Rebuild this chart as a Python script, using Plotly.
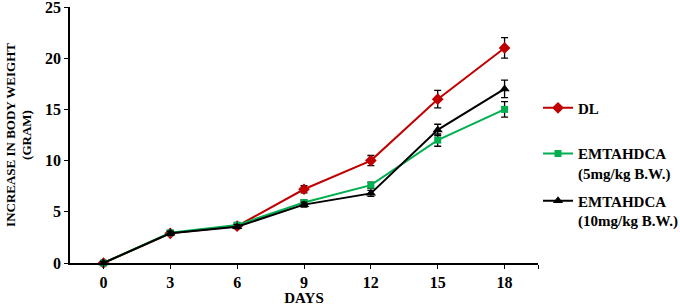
import plotly.graph_objects as go

days = [0, 3, 6, 9, 12, 15, 18]
dl = [0, 2.9, 3.6, 7.2, 10.0, 16.0, 21.0]
dl_err = [0.15, 0.2, 0.2, 0.35, 0.5, 0.85, 1.0]
emt5 = [0, 2.95, 3.7, 5.9, 7.6, 12.0, 15.0]
emt5_err = [0.15, 0.2, 0.2, 0.25, 0.3, 0.6, 0.75]
emt10 = [0, 2.9, 3.55, 5.7, 6.8, 13.0, 17.0]
emt10_err = [0.15, 0.2, 0.2, 0.25, 0.3, 0.55, 0.85]
x_ticks = [0, 3, 6, 9, 12, 15, 18]
y_ticks = [0, 5, 10, 15, 20, 25]

FONT = "Liberation Serif"

series = [
    ("<b>DL</b>", dl, dl_err, "#C00000", "diamond", 9, "legend", 0.605),
    ("<b>EMTAHDCA<br>(5mg/kg B.W.)</b>", emt5, emt5_err, "#00B050", "square", 7, "legend2", 0.39),
    ("<b>EMTAHDCA<br>(10mg/kg B.W.)</b>", emt10, emt10_err, "#000000", "triangle-up", 9, "legend3", 0.205),
]

fig = go.Figure()
legends = {}
for i, (name, ys, errs, col, sym, sz, leg, ly) in enumerate(series):
    fig.add_trace(go.Scatter(
        x=days, y=ys, name=name, mode="lines+markers",
        line=dict(color=col, width=2),
        marker=dict(symbol=sym, size=sz, color=col),
        error_y=dict(type="data", array=errs, visible=True, color="#000000",
                     thickness=1.3, width=3.5),
        cliponaxis=False,
        legend=leg,
    ))
    legends[leg] = dict(x=1.0, y=ly, xanchor="left", yanchor="middle", valign="top",
                        font=dict(family=FONT, size=15, color="#000000"),
                        itemwidth=30, bgcolor="rgba(0,0,0,0)")

x_range = [-1.5, 19.5]
fig.update_layout(
    width=680, height=306,
    margin=dict(l=70, r=142, t=7, b=43, autoexpand=False),
    paper_bgcolor="white", plot_bgcolor="white",
    font=dict(family=FONT, size=15, color="#000000"),
    showlegend=True,
    xaxis=dict(
        range=x_range, tickvals=x_ticks + [x_range[1]],
        ticktext=[f"<b>{v}</b>" for v in x_ticks] + [""],
        showgrid=False, zeroline=False, showline=True, linecolor="#000000", linewidth=1.5,
        ticks="outside", ticklen=4, tickcolor="#000000", tickwidth=1.2,
        automargin=False, tickfont=dict(size=16),
        title=dict(text="<b>DAYS</b>", font=dict(family=FONT, size=15), standoff=0),
    ),
    yaxis=dict(
        range=[0, 25], tickvals=y_ticks, ticktext=[f"<b>{v}</b>" for v in y_ticks],
        showgrid=False, zeroline=False, showline=True, linecolor="#000000", linewidth=1.5,
        ticks="outside", ticklen=4, tickcolor="#000000", tickwidth=1.2,
        automargin=False, ticklabeloverflow="allow", tickfont=dict(size=16),
        title=dict(text="<b>INCREASE IN BODY WEIGHT<br>(GRAM)</b>",
                   font=dict(family=FONT, size=13), standoff=10),
    ),
    **legends,
)

fig.write_html("out.html", config={"displayModeBar": False},
               post_script="document.body.style.margin='0';")
